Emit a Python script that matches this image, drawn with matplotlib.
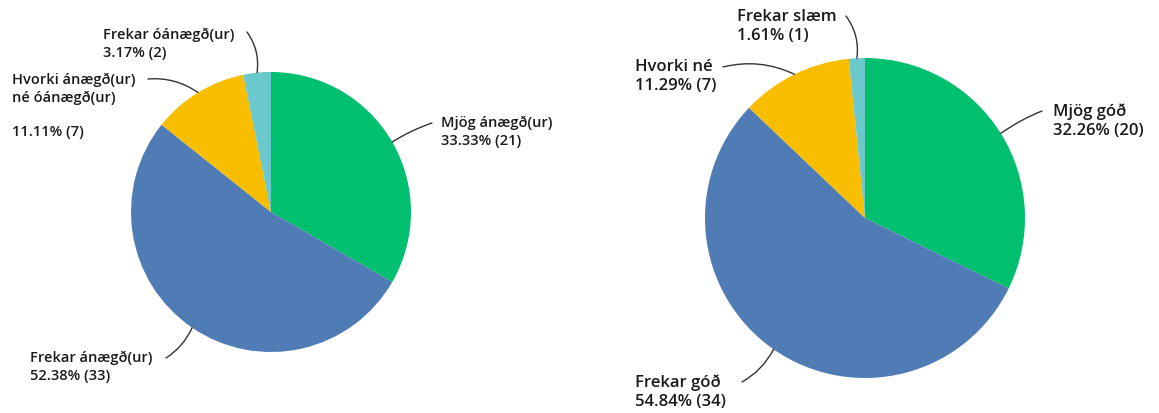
import numpy as np
import matplotlib.pyplot as plt

plt.rcParams['font.family'] = ['Open Sans', 'DejaVu Sans']

colors = ['#00bf6f', '#507cb6', '#f9be00', '#6bc8cd']

left_labels = ['Mjög ánægð(ur)', 'Frekar ánægð(ur)',
               'Hvorki ánægð(ur)\nné óánægð(ur)\n', 'Frekar óánægð(ur)']
left_counts = [21, 33, 7, 2]

right_labels = ['Mjög góð', 'Frekar góð', 'Hvorki né', 'Frekar slæm']
right_counts = [20, 34, 7, 1]

W, H = 1159, 414
fig = plt.figure(figsize=(W / 100, H / 100), dpi=100)
ax = fig.add_axes([0, 0, 1, 1])


def draw_pie(center, radius, labels, counts, text_pos, line_ends, rads, fsize, lsp):
    wedges, _ = ax.pie(counts, colors=colors, startangle=90, counterclock=False,
                       center=center, radius=radius,
                       wedgeprops=dict(edgecolor='none', linewidth=0))
    total = sum(counts)
    for w, lab, c, tp, le, rad in zip(wedges, labels, counts, text_pos, line_ends, rads):
        ang = np.deg2rad((w.theta1 + w.theta2) / 2)
        anchor = (center[0] + radius * np.cos(ang), center[1] + radius * np.sin(ang))
        ax.annotate('', xy=anchor, xytext=(le[0], H - le[1]),
                    arrowprops=dict(arrowstyle='-', color='#333333', lw=1.0,
                                    shrinkA=0, shrinkB=0,
                                    connectionstyle=f'arc3,rad={rad}'))
        txt = f'{lab}\n{100 * c / total:.2f}% ({c})'
        ax.text(tp[0], H - tp[1], txt, ha='left', va='top', fontsize=fsize,
                fontweight='semibold', color='#1a1a1a', linespacing=lsp)


# left pie
draw_pie((271, H - 213), 140, left_labels, left_counts,
         text_pos=[(441, 116), (30, 351), (12, 73), (103, 28)],
         line_ends=[(432, 124), (166, 359), (148, 80), (247, 33)],
         rads=[0.06, 0.15, -0.18, -0.2], fsize=10.5, lsp=1.3)

# right pie
draw_pie((865, H - 219), 160, right_labels, right_counts,
         text_pos=[(1053, 103), (635, 374), (635, 59), (737, 9)],
         line_ends=[(1042, 112), (742, 383), (723, 68), (846, 17)],
         rads=[0.06, 0.15, -0.18, -0.2], fsize=12, lsp=1.25)

ax.set_xlim(0, W)
ax.set_ylim(0, H)
ax.set_aspect('equal')
ax.axis('off')

fig.savefig('out.png', dpi=100)
